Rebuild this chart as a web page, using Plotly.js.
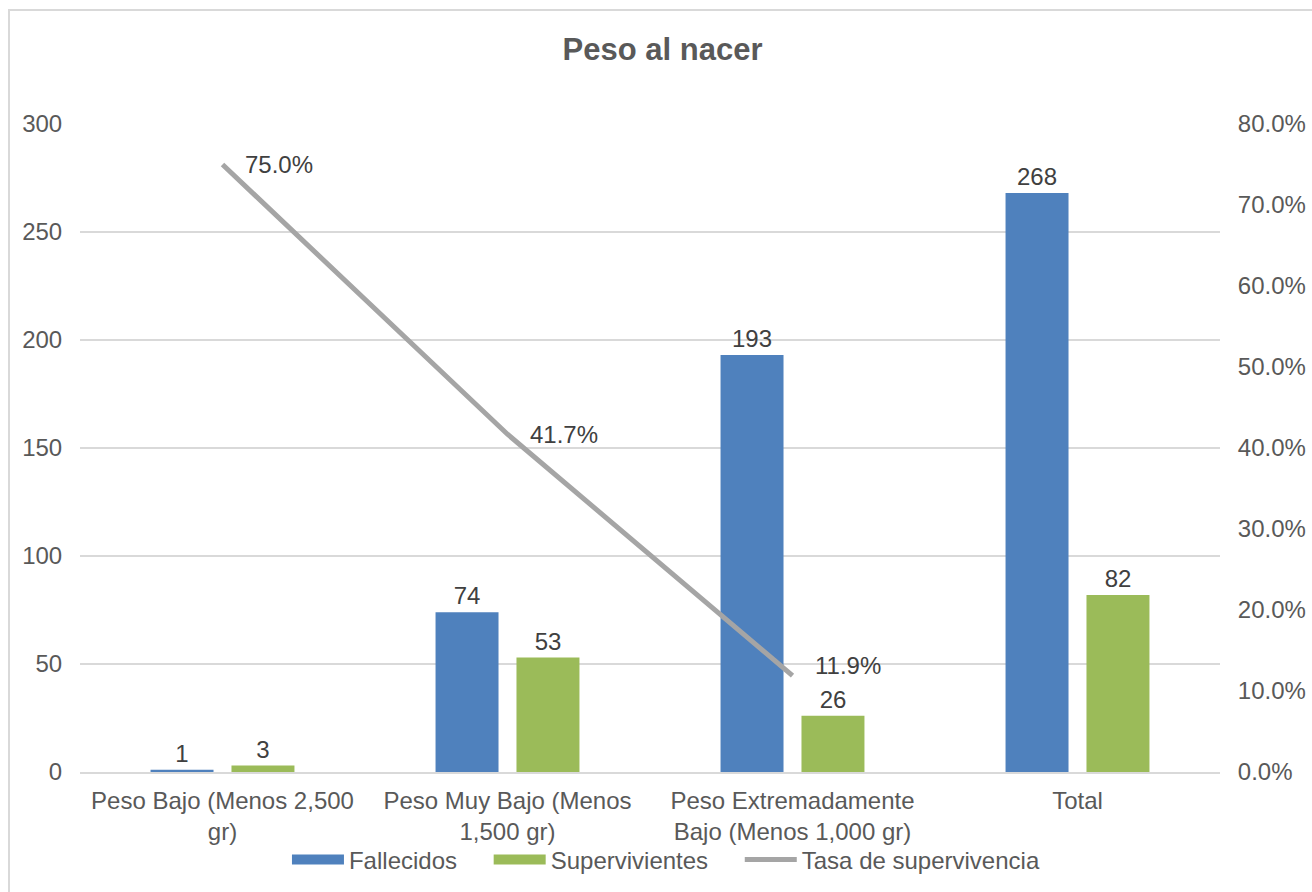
<!DOCTYPE html>
<html>
<head>
<meta charset="utf-8">
<script src="https://cdn.plot.ly/plotly-3.0.1.min.js"></script>
<style>
html,body{margin:0;padding:0;background:#fff;}
#wrap{position:relative;width:1312px;height:892px;overflow:hidden;}
#chart{width:1312px;height:892px;}
#frame{position:absolute;left:8px;top:9px;width:1330px;height:900px;border:2px solid #D9D9D9;pointer-events:none;box-sizing:border-box;}
</style>
</head>
<body>
<div id="wrap"><div id="chart"></div><div id="frame"></div></div>
<script>
const categories = ["Peso Bajo (Menos 2,500<br>gr)", "Peso Muy Bajo (Menos<br>1,500 gr)", "Peso Extremadamente<br>Bajo (Menos 1,000 gr)", "Total"];
const fallecidos = [1, 74, 193, 268];
const supervivientes = [3, 53, 26, 82];
const tasa = [0.75, 0.417, 0.119, null];
const tasaLabels = ["75.0%", "41.7%", "11.9%", ""];
const seriesNames = ["Fallecidos", "Supervivientes", "Tasa de supervivencia"];

const FONT = "Liberation Sans, Arial, sans-serif";
const labelFont = {family: FONT, size: 24, color: "#404040"};
const BLUE = "#4F81BD", GREEN = "#9BBB59", GREY = "#A5A5A5";
const PAD = "\u00A0\u00A0\u00A0\u00A0";

const traces = [
  {
    type: "bar", name: seriesNames[0], x: categories, y: fallecidos,
    marker: {color: BLUE}, showlegend: false,
    text: fallecidos.map(String), textposition: "outside", cliponaxis: false,
    textfont: labelFont, hoverinfo: "skip"
  },
  {
    type: "bar", name: seriesNames[1], x: categories, y: supervivientes,
    marker: {color: GREEN}, showlegend: false,
    text: supervivientes.map(String), textposition: "outside", cliponaxis: false,
    textfont: labelFont, hoverinfo: "skip"
  },
  {
    type: "scatter", mode: "lines", name: seriesNames[2],
    x: categories, y: tasa, yaxis: "y2", showlegend: false,
    line: {color: GREY, width: 5}, hoverinfo: "skip"
  },
  // legend entries (wide swatches)
  {type: "scatter", mode: "lines", name: seriesNames[0] + PAD, x: [null], y: [null],
   line: {color: BLUE, width: 13}, hoverinfo: "skip"},
  {type: "scatter", mode: "lines", name: seriesNames[1] + PAD, x: [null], y: [null],
   line: {color: GREEN, width: 13}, hoverinfo: "skip"},
  {type: "scatter", mode: "lines", name: seriesNames[2], x: [null], y: [null],
   line: {color: GREY, width: 5}, hoverinfo: "skip"}
];

const annotations = [];
tasa.forEach((v, i) => {
  if (v === null) return;
  annotations.push({
    x: categories[i], y: v, xref: "x", yref: "y2",
    text: tasaLabels[i], showarrow: false, xanchor: "left", yanchor: "middle",
    xshift: 20, yshift: i === 2 ? 10 : 0, font: labelFont
  });
});

const layout = {
  width: 1312, height: 892,
  margin: {l: 80, r: 92, t: 124, b: 120, autoexpand: false},
  paper_bgcolor: "#fff", plot_bgcolor: "#fff",
  title: {text: "<b>Peso al nacer</b>", x: 0.505, xanchor: "center", y: 0.945, yanchor: "middle",
          font: {family: FONT, size: 31, color: "#595959"}},
  font: {family: FONT, color: "#595959", size: 24},
  barmode: "group", bargap: 0.432, bargroupgap: 0.222,
  showlegend: true,
  legend: {orientation: "h", x: 0.514, xanchor: "center", y: -0.1358, yanchor: "middle",
           bgcolor: "rgba(0,0,0,0)",
           font: {family: FONT, size: 24, color: "#595959"}, traceorder: "normal",
           itemwidth: 52},
  xaxis: {
    type: "category", showgrid: false, zeroline: false,
    showline: true, linecolor: "#D9D9D9", linewidth: 2,
    ticks: "", ticklabelstandoff: 6, tickfont: {family: FONT, size: 24, color: "#595959"}
  },
  yaxis: {
    range: [0, 300], dtick: 50, showgrid: true, gridcolor: "#D9D9D9", gridwidth: 1.5,
    zeroline: false, showline: false, ticks: "outside", ticklen: 12, tickcolor: "rgba(0,0,0,0)",
    tickfont: {family: FONT, size: 24, color: "#595959"}
  },
  yaxis2: {
    range: [0, 0.8], dtick: 0.1, tickformat: ".1%", overlaying: "y", side: "right",
    showgrid: false, zeroline: false, showline: false, ticks: "outside", ticklen: 12,
    tickcolor: "rgba(0,0,0,0)",
    tickfont: {family: FONT, size: 24, color: "#595959"}
  },
  annotations: annotations
};

Plotly.newPlot("chart", traces, layout, {displayModeBar: false, staticPlot: true});
</script>
</body>
</html>
